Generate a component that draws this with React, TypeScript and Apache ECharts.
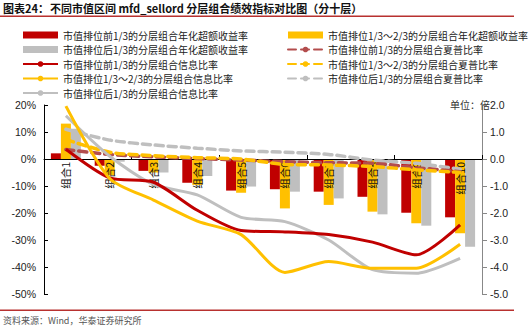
import React, { useEffect, useRef } from "react";
import * as echarts from "echarts";

const categories = ["组合1", "组合2", "组合3", "组合4", "组合5", "组合6", "组合7", "组合8", "组合9", "组合10"];

// 年化超额收益率 (%)
const topExcess = [2.1, -2.5, -4.4, -8.8, -11.7, -11.2, -12.1, -14.0, -19.9, -21.6];
const midExcess = [13.1, -6.0, -5.0, -9.6, -12.5, -18.3, -17.0, -19.5, -23.8, -27.5];
const lowExcess = [11.2, -1.0, -5.0, -6.3, -10.2, -12.1, -14.6, -20.5, -24.7, -32.5];

// 信息比率 (倍)
const topIR = [0.36, -0.7, -0.86, -1.9, -2.65, -2.7, -2.8, -3.08, -3.55, -2.44];
const midIR = [1.96, -0.72, -1.52, -2.3, -2.8, -4.2, -3.8, -4.05, -4.05, -3.16];
const lowIR = [1.6, 0.1, -0.94, -1.33, -2.16, -2.32, -3.0, -4.1, -4.23, -3.68];

// 夏普比率 (倍)
const topSR = [0.35, 0.17, 0.08, 0.02, -0.04, -0.1, -0.14, -0.16, -0.32, -0.47];
const midSR = [0.72, 0.25, 0.12, 0.05, 0.0, -0.2, -0.22, -0.28, -0.4, -0.5];
const lowSR = [1.1, 0.7, 0.52, 0.4, 0.3, 0.25, 0.17, -0.04, -0.16, -0.38];

const leftTicks = { min: -50, max: 20, interval: 10 };
const rightTicks = { min: -5, max: 2, interval: 1 };

const names = {
  topEx: "市值排位前1/3的分层组合年化超额收益率",
  midEx: "市值排位1/3～2/3的分层组合年化超额收益率",
  lowEx: "市值排位后1/3的分层组合年化超额收益率",
  topIR: "市值排位前1/3的分层组合信息比率",
  midIR: "市值排位1/3～2/3的分层组合信息比率",
  lowIR: "市值排位后1/3的分层组合信息比率",
  topSR: "市值排位前1/3的分层组合夏普比率",
  midSR: "市值排位1/3～2/3的分层组合夏普比率",
  lowSR: "市值排位后1/3的分层组合夏普比率",
};

const RED = "#C00000";
const YELLOW = "#FFC000";
const GRAY = "#BFBFBF";
const DRED = "#B34D4D";
const FONT = "'Noto Sans CJK SC', 'Noto Sans', sans-serif";
const NUMFONT = "'Liberation Sans', Arial, sans-serif";

const W = 532;
const H = 331;
const GRID = { left: 44, right: 50, top: 105, bottom: 37 };

export default function App() {
  const ref = useRef<HTMLDivElement>(null);
  useEffect(() => {
    if (!ref.current) return;
    const chart = echarts.init(ref.current, null, { renderer: "svg" });
    const gridH = H - GRID.top - GRID.bottom;
    // pixel y of the zero line of the left axis
    const zeroY = GRID.top + (gridH * leftTicks.max) / (leftTicks.max - leftTicks.min);
    const legendCommon = {
      orient: "vertical" as const,
      itemWidth: 35,
      itemHeight: 7,
      itemGap: 2.5,
      textStyle: { fontSize: 10, lineHeight: 12, color: "#222", fontFamily: FONT },
      selectedMode: false,
    };
    const barBase = {
      type: "bar" as const,
      xAxisIndex: 0,
      yAxisIndex: 0,
      barWidth: 10,
      barGap: "0%",
      z: 2,
    };
    const lineBase = {
      type: "line" as const,
      xAxisIndex: 0,
      yAxisIndex: 1,
      symbol: "none",
      smooth: 0.25,
      z: 5,
    };
    chart.setOption({
      animation: false,
      textStyle: { fontFamily: FONT },
      legend: [
        {
          ...legendCommon,
          left: 17,
          top: 24,
          data: [
            { name: names.topEx, icon: "rect" },
            { name: names.lowEx, icon: "rect" },
            names.topIR,
            names.midIR,
            names.lowIR,
          ],
        },
        {
          ...legendCommon,
          left: 282,
          top: 24,
          data: [{ name: names.midEx, icon: "rect" }, names.topSR, names.midSR, names.lowSR],
        },
      ],
      grid: [
        { ...GRID },
        // helper grid ending at the zero line: its bottom category axis carries the labels
        { left: GRID.left, right: GRID.right, top: GRID.top, bottom: H - zeroY },
      ],
      xAxis: [
        {
          type: "category",
          gridIndex: 0,
          data: categories,
          z: 3,
          axisLine: { onZero: true, lineStyle: { color: "#000", width: 1 } },
          axisTick: { show: true, inside: true, length: 4, lineStyle: { color: "#000" } },
          axisLabel: { show: false },
        },
        {
          type: "category",
          gridIndex: 1,
          data: categories,
          z: 3,
          position: "bottom",
          axisLine: { show: false, onZero: false },
          axisTick: { show: false },
          splitLine: { show: false },
          axisLabel: {
            rotate: 90,
            margin: 3,
            fontSize: 10.5,
            color: "#111",
            fontFamily: FONT,
            interval: 0,
          },
        },
      ],
      yAxis: [
        {
          type: "value",
          gridIndex: 0,
          ...leftTicks,
          splitLine: { show: false },
          axisLine: { show: true, lineStyle: { color: "#000" } },
          axisTick: { show: true, inside: true, length: 4, lineStyle: { color: "#000" } },
          axisLabel: {
            formatter: "{value}%",
            fontSize: 10.5,
            color: "#222",
            margin: 8,
            fontFamily: NUMFONT,
          },
        },
        {
          type: "value",
          gridIndex: 0,
          ...rightTicks,
          splitLine: { show: false },
          axisLine: { show: true, lineStyle: { color: "#888" } },
          axisTick: { show: true, inside: false, length: 5, lineStyle: { color: "#888" } },
          axisLabel: {
            formatter: (v: number) => v.toFixed(1),
            fontSize: 10.5,
            color: "#222",
            margin: 8,
            fontFamily: NUMFONT,
          },
        },
        {
          type: "value",
          gridIndex: 1,
          min: 0,
          max: 1,
          show: false,
        },
      ],
      series: [
        { ...barBase, name: names.topEx, data: topExcess, itemStyle: { color: RED } },
        { ...barBase, name: names.midEx, data: midExcess, itemStyle: { color: YELLOW } },
        { ...barBase, name: names.lowEx, data: lowExcess, itemStyle: { color: GRAY } },
        { ...lineBase, name: names.lowSR, data: lowSR, lineStyle: { color: GRAY, width: 3.5, type: [8, 5], cap: "round" }, itemStyle: { color: GRAY } },
        { ...lineBase, name: names.topSR, data: topSR, lineStyle: { color: DRED, width: 3.5, type: [8, 5], cap: "round" }, itemStyle: { color: DRED } },
        { ...lineBase, name: names.midSR, data: midSR, lineStyle: { color: YELLOW, width: 3.5, type: [8, 5], cap: "round" }, itemStyle: { color: YELLOW } },
        { ...lineBase, name: names.lowIR, data: lowIR, lineStyle: { color: GRAY, width: 3 }, itemStyle: { color: GRAY } },
        { ...lineBase, name: names.topIR, data: topIR, lineStyle: { color: RED, width: 3 }, itemStyle: { color: RED } },
        { ...lineBase, name: names.midIR, data: midIR, lineStyle: { color: YELLOW, width: 3 }, itemStyle: { color: YELLOW } },
      ],
      graphic: [
        {
          type: "text",
          left: 3,
          top: 2,
          style: { text: "图表24：", fontSize: 11, fontWeight: "bold", fill: "#111", fontFamily: FONT },
        },
        {
          type: "text",
          left: 50,
          top: 2,
          style: {
            text: "不同市值区间 mfd_sellord 分层组合绩效指标对比图（分十层）",
            fontSize: 11,
            fontWeight: "bold",
            fill: "#111",
            fontFamily: FONT,
          },
        },
        {
          type: "rect",
          shape: { x: 0, y: 15.5, width: 514, height: 1.6 },
          style: { fill: "#B8312F" },
        },
        {
          type: "text",
          left: 450,
          top: 99,
          style: { text: "单位：倍", fontSize: 10, fill: "#333", fontFamily: FONT },
          z: 1,
        },
        {
          type: "rect",
          shape: { x: 0, y: 309.5, width: 514, height: 1.5 },
          style: { fill: "#B8312F" },
        },
        {
          type: "text",
          left: 3,
          top: 316,
          style: { text: "资料来源：Wind，华泰证券研究所", fontSize: 9, fill: "#555", fontFamily: FONT },
        },
      ],
    });
    return () => chart.dispose();
  }, []);
  return (
    <div
      ref={ref}
      style={{ width: W, height: H, position: "absolute", left: 0, top: 0, background: "#fff" }}
    />
  );
}
